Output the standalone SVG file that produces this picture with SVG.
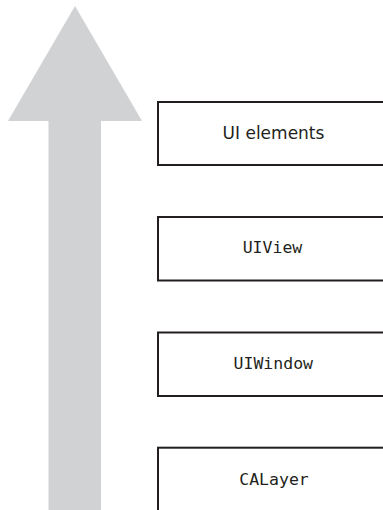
<svg xmlns="http://www.w3.org/2000/svg" width="383" height="510" viewBox="0 0 383 510">
  <style>
    .box { fill: #ffffff; stroke: #231f20; stroke-width: 2; }
    .sans { font-family: "DejaVu Sans", "Liberation Sans", sans-serif; font-size: 17px; fill: #231f20; text-anchor: middle; }
    .mono { font-family: "DejaVu Sans Mono", "Liberation Mono", monospace; font-size: 16.5px; fill: #231f20; text-anchor: middle; }
  </style>
  <rect width="383" height="510" fill="#ffffff"/>
  <g id="arrow">
    <polygon points="75,6 142,121 101,121 101,510 48.5,510 48.5,121 8,121" fill="#d1d2d4"/>
  </g>
  <g id="connectors"></g>
  <g id="ui-elements">
    <rect class="box" x="158" y="102" width="240" height="63"/>
    <text class="sans" x="273.5" y="138.5">UI elements</text>
  </g>
  <g id="uiview">
    <rect class="box" x="158" y="217" width="240" height="63.5"/>
    <text class="mono" x="272.5" y="252.7">UIView</text>
  </g>
  <g id="uiwindow">
    <rect class="box" x="158" y="332.5" width="240" height="63.5"/>
    <text class="mono" x="273.3" y="369">UIWindow</text>
  </g>
  <g id="calayer">
    <rect class="box" x="158" y="447.7" width="240" height="80"/>
    <text class="mono" x="274" y="485">CALayer</text>
  </g>
</svg>
